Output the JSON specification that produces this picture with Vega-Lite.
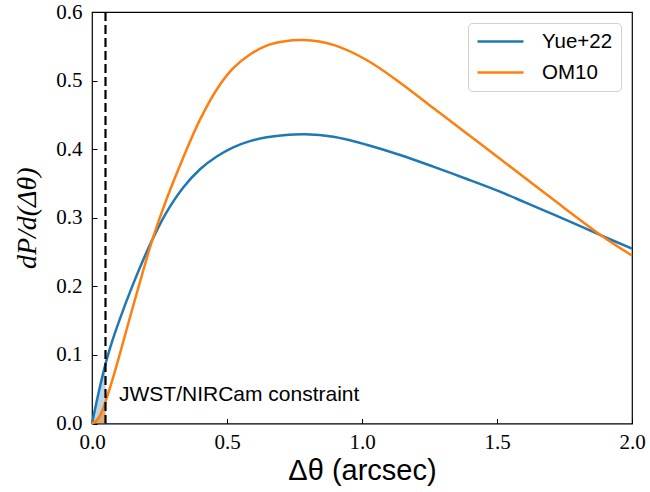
{
  "$schema": "https://vega.github.io/schema/vega-lite/v6.json",
  "width": 540,
  "height": 411.5,
  "autosize": "none",
  "padding": {"left": 92, "top": 12, "right": 18, "bottom": 69},
  "background": "white",
  "config": {
    "view": {"stroke": "black", "strokeWidth": 1.2},
    "axis": {
      "grid": false,
      "domain": false,
      "ticks": true,
      "tickSize": -5,
      "tickColor": "black",
      "tickWidth": 1,
      "labelFlush": false,
      "labelFont": "Liberation Serif",
      "labelFontSize": 21,
      "labelColor": "black",
      "titleColor": "black"
    }
  },
  "datasets": {
    "curves": [
      {"x": 0, "y": 0, "model": "Yue+22"},
      {"x": 0.025, "y": 0.046, "model": "Yue+22"},
      {"x": 0.05, "y": 0.087, "model": "Yue+22"},
      {"x": 0.074, "y": 0.119, "model": "Yue+22"},
      {"x": 0.1, "y": 0.149, "model": "Yue+22"},
      {"x": 0.15, "y": 0.201, "model": "Yue+22"},
      {"x": 0.2, "y": 0.248, "model": "Yue+22"},
      {"x": 0.227, "y": 0.271, "model": "Yue+22"},
      {"x": 0.277, "y": 0.3085, "model": "Yue+22"},
      {"x": 0.338, "y": 0.344, "model": "Yue+22"},
      {"x": 0.4, "y": 0.3707, "model": "Yue+22"},
      {"x": 0.462, "y": 0.3893, "model": "Yue+22"},
      {"x": 0.523, "y": 0.4027, "model": "Yue+22"},
      {"x": 0.585, "y": 0.4117, "model": "Yue+22"},
      {"x": 0.647, "y": 0.4173, "model": "Yue+22"},
      {"x": 0.709, "y": 0.4203, "model": "Yue+22"},
      {"x": 0.79, "y": 0.4217, "model": "Yue+22"},
      {"x": 0.894, "y": 0.418, "model": "Yue+22"},
      {"x": 1.017, "y": 0.4065, "model": "Yue+22"},
      {"x": 1.141, "y": 0.3915, "model": "Yue+22"},
      {"x": 1.264, "y": 0.3745, "model": "Yue+22"},
      {"x": 1.388, "y": 0.3565, "model": "Yue+22"},
      {"x": 1.511, "y": 0.338, "model": "Yue+22"},
      {"x": 1.6, "y": 0.3232, "model": "Yue+22"},
      {"x": 1.7, "y": 0.3063, "model": "Yue+22"},
      {"x": 1.8, "y": 0.2893, "model": "Yue+22"},
      {"x": 1.894, "y": 0.2728, "model": "Yue+22"},
      {"x": 2.0, "y": 0.255, "model": "Yue+22"},
      {"x": 0, "y": 0, "model": "OM10"},
      {"x": 0.01, "y": 0.002, "model": "OM10"},
      {"x": 0.02, "y": 0.006, "model": "OM10"},
      {"x": 0.03, "y": 0.012, "model": "OM10"},
      {"x": 0.04, "y": 0.021, "model": "OM10"},
      {"x": 0.05, "y": 0.032, "model": "OM10"},
      {"x": 0.075, "y": 0.063, "model": "OM10"},
      {"x": 0.1, "y": 0.097, "model": "OM10"},
      {"x": 0.15, "y": 0.168, "model": "OM10"},
      {"x": 0.2, "y": 0.237, "model": "OM10"},
      {"x": 0.227, "y": 0.272, "model": "OM10"},
      {"x": 0.277, "y": 0.328, "model": "OM10"},
      {"x": 0.338, "y": 0.388, "model": "OM10"},
      {"x": 0.4, "y": 0.443, "model": "OM10"},
      {"x": 0.462, "y": 0.487, "model": "OM10"},
      {"x": 0.523, "y": 0.518, "model": "OM10"},
      {"x": 0.585, "y": 0.538, "model": "OM10"},
      {"x": 0.647, "y": 0.551, "model": "OM10"},
      {"x": 0.709, "y": 0.557, "model": "OM10"},
      {"x": 0.783, "y": 0.559, "model": "OM10"},
      {"x": 0.894, "y": 0.552, "model": "OM10"},
      {"x": 1.017, "y": 0.530, "model": "OM10"},
      {"x": 1.141, "y": 0.497, "model": "OM10"},
      {"x": 1.264, "y": 0.460, "model": "OM10"},
      {"x": 1.388, "y": 0.423, "model": "OM10"},
      {"x": 1.511, "y": 0.386, "model": "OM10"},
      {"x": 1.7, "y": 0.329, "model": "OM10"},
      {"x": 1.894, "y": 0.272, "model": "OM10"},
      {"x": 2.0, "y": 0.245, "model": "OM10"}
    ],
    "shade": [
      {"x": 0, "y": 0, "model": "Yue+22"},
      {"x": 0.025, "y": 0.046, "model": "Yue+22"},
      {"x": 0.05, "y": 0.087, "model": "Yue+22"},
      {"x": 0, "y": 0, "model": "OM10"},
      {"x": 0.01, "y": 0.002, "model": "OM10"},
      {"x": 0.02, "y": 0.006, "model": "OM10"},
      {"x": 0.03, "y": 0.012, "model": "OM10"},
      {"x": 0.04, "y": 0.021, "model": "OM10"},
      {"x": 0.05, "y": 0.032, "model": "OM10"}
    ],
    "cut": [{"x": 0.05}],
    "note": [{"x": 0.1, "y": 0.0415, "label": "JWST/NIRCam constraint"}]
  },
  "layer": [
    {
      "data": {"name": "shade"},
      "transform": [{"filter": "datum.model === 'Yue+22'"}],
      "mark": {"type": "area", "color": "#1f77b4", "opacity": 0.3},
      "encoding": {
        "x": {"field": "x", "type": "quantitative", "scale": {"domain": [0, 2], "nice": false, "zero": false}},
        "y": {"field": "y", "type": "quantitative", "scale": {"domain": [0, 0.6], "nice": false}}
      }
    },
    {
      "data": {"name": "shade"},
      "transform": [{"filter": "datum.model === 'OM10'"}],
      "mark": {"type": "area", "color": "#ff7f0e", "opacity": 0.5},
      "encoding": {
        "x": {"field": "x", "type": "quantitative", "scale": {"domain": [0, 2], "nice": false, "zero": false}},
        "y": {"field": "y", "type": "quantitative", "scale": {"domain": [0, 0.6], "nice": false}}
      }
    },
    {
      "data": {"name": "curves"},
      "mark": {"type": "line", "strokeWidth": 2.5, "interpolate": "catmull-rom"},
      "encoding": {
        "x": {
          "field": "x", "type": "quantitative",
          "scale": {"domain": [0, 2], "nice": false, "zero": false},
          "axis": {"values": [0, 0.5, 1, 1.5, 2], "format": ".1f", "labelPadding": 13,
                   "title": "Δθ (arcsec)", "titleFont": "Liberation Sans", "titleFontSize": 29,
                   "titleFontWeight": "normal", "titlePadding": 4}
        },
        "y": {
          "field": "y", "type": "quantitative",
          "scale": {"domain": [0, 0.6], "nice": false},
          "axis": {"values": [0, 0.1, 0.2, 0.3, 0.4, 0.5, 0.6], "format": ".1f", "labelPadding": 15,
                   "title": "dP/d(Δθ)", "titleFont": "Liberation Serif", "titleFontStyle": "italic",
                   "titleFontSize": 28, "titleFontWeight": "normal", "titlePadding": 14}
        },
        "color": {
          "field": "model", "type": "nominal", "sort": ["Yue+22", "OM10"],
          "scale": {"domain": ["Yue+22", "OM10"], "range": ["#1f77b4", "#ff7f0e"]},
          "legend": {
            "title": null, "orient": "top-right", "offset": 11,
            "strokeColor": "#d0d0d0", "fillColor": "white", "cornerRadius": 4,
            "padding": 8, "symbolType": "M-1,0H4.11", "symbolSize": 324,
            "symbolStrokeWidth": 2.5, "labelFont": "Liberation Sans", "labelFontSize": 20.5,
            "labelColor": "black", "labelOffset": 45, "rowPadding": 10
          }
        }
      }
    },
    {
      "data": {"name": "cut"},
      "mark": {"type": "rule", "color": "black", "strokeWidth": 2.2, "strokeDash": [9, 4]},
      "encoding": {
        "x": {"field": "x", "type": "quantitative", "scale": {"domain": [0, 2], "nice": false, "zero": false}}
      }
    },
    {
      "data": {"name": "note"},
      "mark": {"type": "text", "align": "left", "baseline": "middle", "font": "Liberation Sans", "fontSize": 21, "color": "black"},
      "encoding": {
        "x": {"field": "x", "type": "quantitative", "scale": {"domain": [0, 2], "nice": false, "zero": false}},
        "y": {"field": "y", "type": "quantitative", "scale": {"domain": [0, 0.6], "nice": false}},
        "text": {"field": "label"}
      }
    }
  ]
}
